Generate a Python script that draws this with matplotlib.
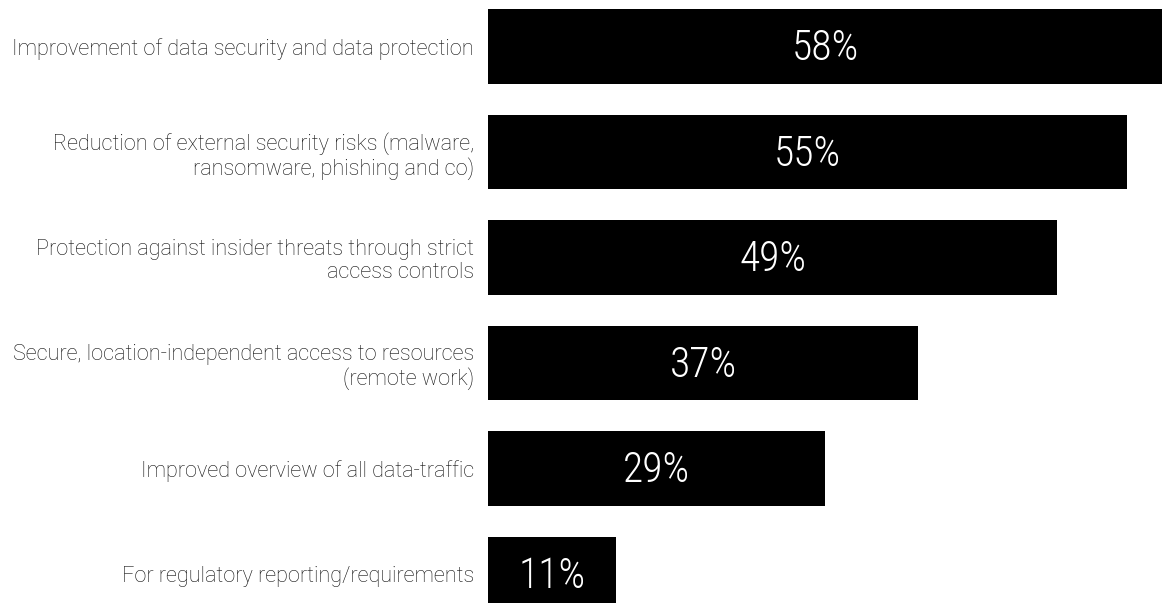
import matplotlib
matplotlib.use('Agg')
import matplotlib.pyplot as plt

categories = [
    'Improvement of data security and data protection',
    'Reduction of external security risks (malware,\nransomware, phishing and co)',
    'Protection against insider threats through strict\naccess controls',
    'Secure, location-independent access to resources\n(remote work)',
    'Improved overview of all data-traffic',
    'For regulatory reporting/requirements',
]
values = [58, 55, 49, 37, 29, 11]

fig = plt.figure(figsize=(11.62, 6.03), dpi=100)
ax = fig.add_axes([488 / 1162, 0, 1 - 488 / 1162, 1])

pos = list(range(len(values)))
ax.barh(pos, values, height=0.71, color='black')
ax.set_xlim(0, 58)
ax.set_ylim(5.275, -0.441)

ax.set_yticks(pos)
ax.set_yticklabels(categories, fontfamily='Roboto', fontweight='light',
                   fontsize=15.6, color='#111111', linespacing=1.15)
ax.tick_params(axis='y', length=0, pad=10)
ax.set_xticks([])
for s in ax.spines.values():
    s.set_visible(False)

# percentage inside each bar
for p, v in zip(pos, values):
    ax.text(v / 2, p + 0.02, f'{v}%', ha='center', va='center', color='white',
            fontsize=30, fontweight='light', fontstretch='condensed',
            fontfamily=['Roboto Condensed', 'DejaVu Sans Condensed', 'Roboto'])

fig.savefig('out.png', dpi=100)
